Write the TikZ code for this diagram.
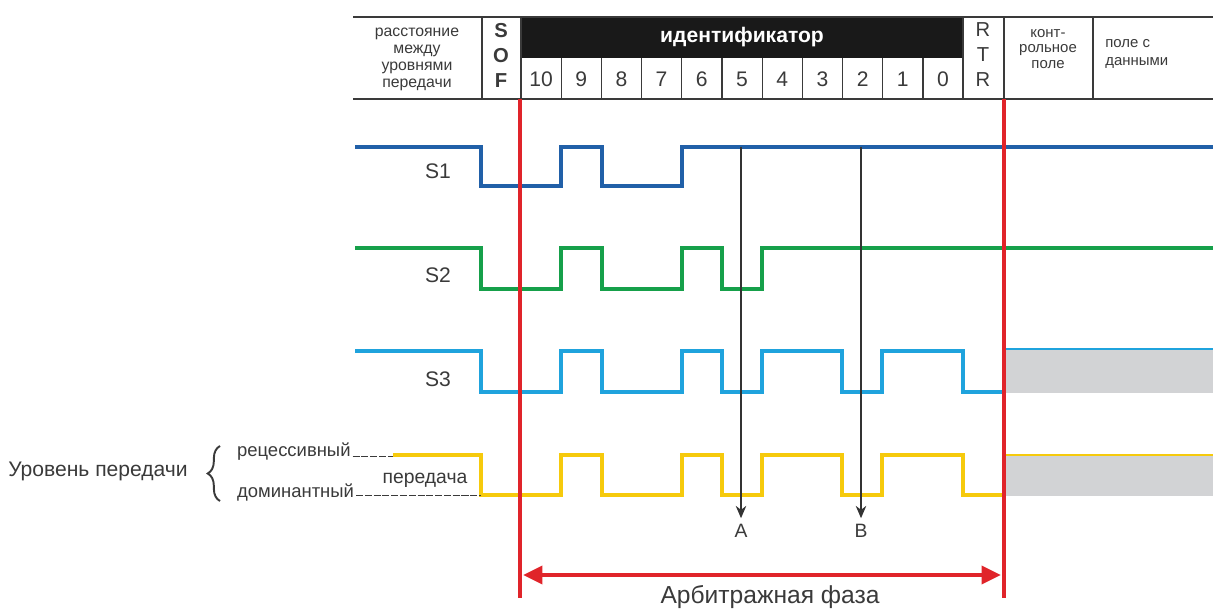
\documentclass[tikz,border=0pt]{standalone}
\usepackage{fontspec}
\setmainfont{Liberation Sans}
\usetikzlibrary{arrows.meta,decorations.pathreplacing,positioning}
\definecolor{txtgray}{HTML}{3A3A3A}
\definecolor{sigone}{HTML}{2160A8}
\definecolor{sigtwo}{HTML}{16A04A}
\definecolor{sigthree}{HTML}{1FA3DD}
\definecolor{busyellow}{HTML}{F6CA0C}
\definecolor{arbred}{HTML}{E0242A}
\definecolor{fillgray}{HTML}{D2D3D5}
\begin{document}
\begin{tikzpicture}[x=0.02cm,y=-0.02cm,line join=miter,
    hdr/.style={font=\fontsize{9}{10}\selectfont,text=txtgray,inner sep=0pt},
    bigletter/.style={font=\fontsize{11.5}{14.2}\selectfont,text=txtgray,align=center,inner sep=0pt},
    num/.style={font=\fontsize{12}{14}\selectfont,text=txtgray,inner sep=0pt},
    siglabel/.style={font=\fontsize{12}{14}\selectfont,text=txtgray},
    side/.style={font=\fontsize{10.5}{12}\selectfont,text=txtgray,inner sep=1pt},
    rule/.style={draw=txtgray,line width=0.6pt},
    wave/.style={line width=2.3pt},
    marker/.style={draw=black!80,line width=0.6pt,-{Stealth[length=7pt,width=6pt]}},
    level/.style={draw=txtgray,line width=0.5pt,dash pattern=on 4pt off 1pt}]
\useasboundingbox (0,0) rectangle (1213,611);

% header
\fill[black!90] (521,17) rectangle (963,58);
\draw[rule,line width=0.9pt] (353,17) -- (1213,17);
\draw[rule,line width=0.9pt] (353,99) -- (1213,99);
\foreach \x in {482,521,963,1004,1093}
  \draw[rule] (\x,17) -- (\x,99);
\foreach \k in {1,...,10}
  \draw[rule] (521+40.2*\k,58) -- (521+40.2*\k,99);
\node[hdr,align=center,font=\fontsize{9}{9.7}\selectfont] (gap) at (417,59) {расстояние\\между\\уровнями\\передачи};
\node[bigletter,font=\fontsize{11.5}{14.2}\selectfont\bfseries] (sof) at (501,55) {S\\O\\F};
\node[font=\fontsize{12}{14}\selectfont\bfseries,text=white] (ident) at (742,37) {идентификатор};
\foreach \n [count=\i from 0] in {10,9,...,0}
  \node[num] (bit\n) at (541+40.2*\i,79) {\n};
\node[bigletter] (rtr) at (983,55) {R\\T\\R};
\node[hdr,align=center,font=\fontsize{8.5}{8.8}\selectfont] (ctrl) at (1048,49) {конт-\\рольное\\поле};
\node[hdr,align=left,anchor=west,font=\fontsize{8.5}{9.8}\selectfont] (data) at (1105,54) {поле с\\данными};

% signals
\fill[fillgray] (1004,349) rectangle (1213,393);
\fill[fillgray] (1004,455) rectangle (1213,496);
\draw[sigthree,line width=0.6pt] (1004,349) -- (1213,349);
\draw[busyellow,line width=0.6pt] (1004,455) -- (1213,455);

\draw[wave,sigone,line width=1.8pt] (355,147) -- (481,147) -- (481,186) -- (561,186) -- (561,147) -- (602,147)
  -- (602,186) -- (682,186) -- (682,147) -- (1213,147);
\draw[wave,sigtwo] (355,248) -- (481,248) -- (481,289) -- (561,289) -- (561,248) -- (602,248)
  -- (602,289) -- (682,289) -- (682,248) -- (722,248) -- (722,289) -- (762,289) -- (762,248) -- (1213,248);
\draw[wave,sigthree] (355,351) -- (481,351) -- (481,392) -- (561,392) -- (561,351) -- (602,351)
  -- (602,392) -- (682,392) -- (682,351) -- (722,351) -- (722,392) -- (762,392) -- (762,351)
  -- (842,351) -- (842,392) -- (882,392) -- (882,351) -- (963,351) -- (963,392) -- (1004,392);
\draw[wave,busyellow] (393,455) -- (481,455) -- (481,495) -- (561,495) -- (561,455) -- (602,455)
  -- (602,495) -- (682,495) -- (682,455) -- (722,455) -- (722,495) -- (762,495) -- (762,455)
  -- (842,455) -- (842,495) -- (882,495) -- (882,455) -- (963,455) -- (963,495) -- (1004,495);

\node[siglabel] (s1) at (438,171) {S1};
\node[siglabel] (s2) at (438,275) {S2};
\node[siglabel] (s3) at (438,379) {S3};

% levels
\node[font=\fontsize{12}{14}\selectfont,text=txtgray,anchor=east] (lvl) at (194,471) {Уровень передачи};
\draw[txtgray,line width=1.1pt,decorate,decoration={brace,amplitude=7pt}] (220,501) -- (220,446);
\node[side,anchor=west] (rec) at (235,452) {рецессивный};
\node[side,anchor=west] (dom) at (235,492) {доминантный};
\node[side,font=\fontsize{11}{12}\selectfont] (tx) at (425,480) {передача};
\coordinate (rec end) at (393,456);
\coordinate (dom end) at (481,495);
\draw[level] (rec end -| rec.east) -- (rec end);
\draw[level] (dom end -| dom.east) -- (dom end);

% arbitration markers
\coordinate (a top) at (741,147);
\coordinate (b top) at (861,147);
\node[font=\fontsize{11}{12}\selectfont,text=txtgray] (A) at (741,531) {A};
\node[font=\fontsize{11}{12}\selectfont,text=txtgray] (B) at (861,531) {B};
\draw[marker] (a top) -- (A);
\draw[marker] (b top) -- (B);

% arbitration phase
\coordinate (sof top) at (520,99);
\coordinate (sof bot) at (520,598);
\coordinate (rtr top) at (1004,99);
\coordinate (rtr bot) at (1004,598);
\draw[arbred,line width=2.4pt] (sof top) -- (sof bot);
\draw[arbred,line width=2.4pt] (rtr top) -- (rtr bot);
\coordinate (arb l) at (523,575);
\coordinate (arb r) at (1001,575);
\draw[arbred,line width=2.6pt,{Triangle[length=11pt,width=10pt]}-{Triangle[length=11pt,width=10pt]}] (arb l) -- (arb r);
\node[font=\fontsize{14}{16}\selectfont,text=txtgray] (arb) at (770,597) {Арбитражная фаза};
\end{tikzpicture}
\end{document}
